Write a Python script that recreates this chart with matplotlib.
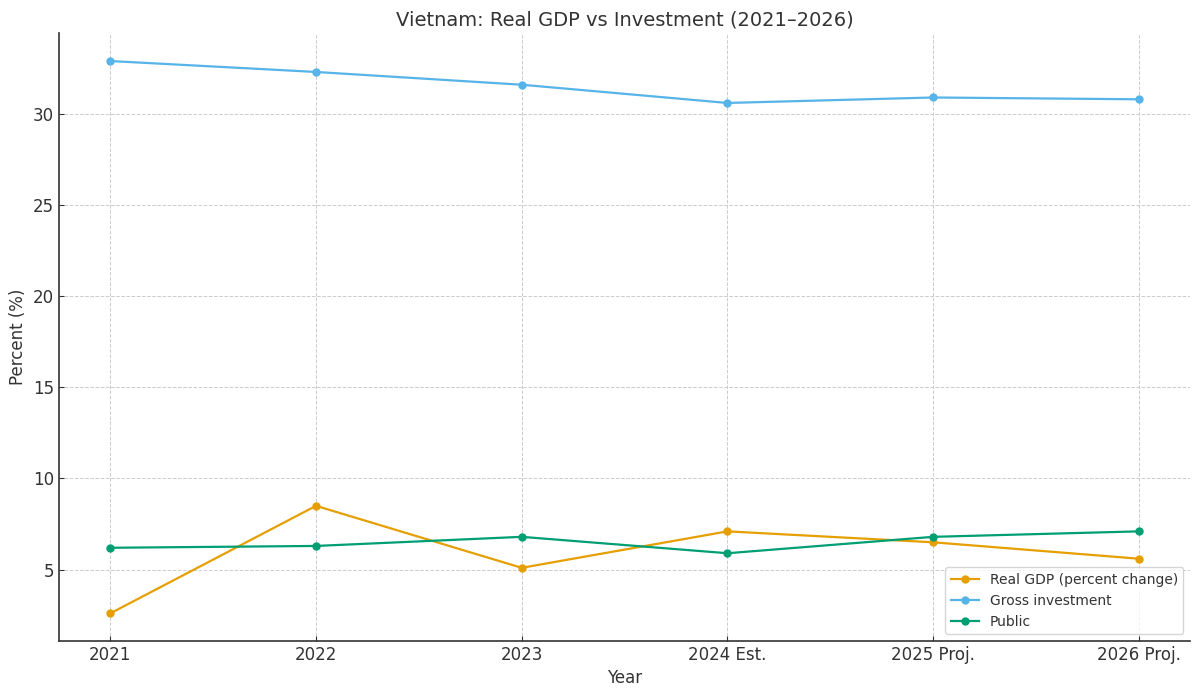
import matplotlib
matplotlib.use("Agg")
import matplotlib.pyplot as plt

# Data
years = ["2021", "2022", "2023", "2024 Est.", "2025 Proj.", "2026 Proj."]
real_gdp = [2.6, 8.5, 5.1, 7.1, 6.5, 5.6]
gross_investment = [32.9, 32.3, 31.6, 30.6, 30.9, 30.8]
public = [6.2, 6.3, 6.8, 5.9, 6.8, 7.1]

text_color = "#333333"
plt.rcParams["font.family"] = "DejaVu Sans"

fig, ax = plt.subplots(figsize=(12, 6.96), dpi=100)
x = range(len(years))

ax.plot(x, real_gdp, marker="o", markersize=5, linewidth=1.6,
        color="#E69F00", label="Real GDP (percent change)")
ax.plot(x, gross_investment, marker="o", markersize=5, linewidth=1.6,
        color="#56B4E9", label="Gross investment")
ax.plot(x, public, marker="o", markersize=5, linewidth=1.6,
        color="#009E73", label="Public")

ax.set_xticks(list(x))
ax.set_xticklabels(years)
ax.set_title("Vietnam: Real GDP vs Investment (2021–2026)", fontsize=14, color=text_color)
ax.set_xlabel("Year", fontsize=12, color=text_color)
ax.set_ylabel("Percent (%)", fontsize=12, color=text_color)
ax.tick_params(direction="in", labelsize=12, colors=text_color)

ax.grid(True, linestyle="--", linewidth=0.7, color="#cccccc")
ax.spines["top"].set_visible(False)
ax.spines["right"].set_visible(False)
for s in ("left", "bottom"):
    ax.spines[s].set_color(text_color)
    ax.spines[s].set_linewidth(1.2)

ax.legend(loc="lower right", fontsize=10, labelcolor=text_color)

fig.subplots_adjust(left=0.049, right=0.992, top=0.952, bottom=0.079)
fig.savefig("out.png", dpi=100)
